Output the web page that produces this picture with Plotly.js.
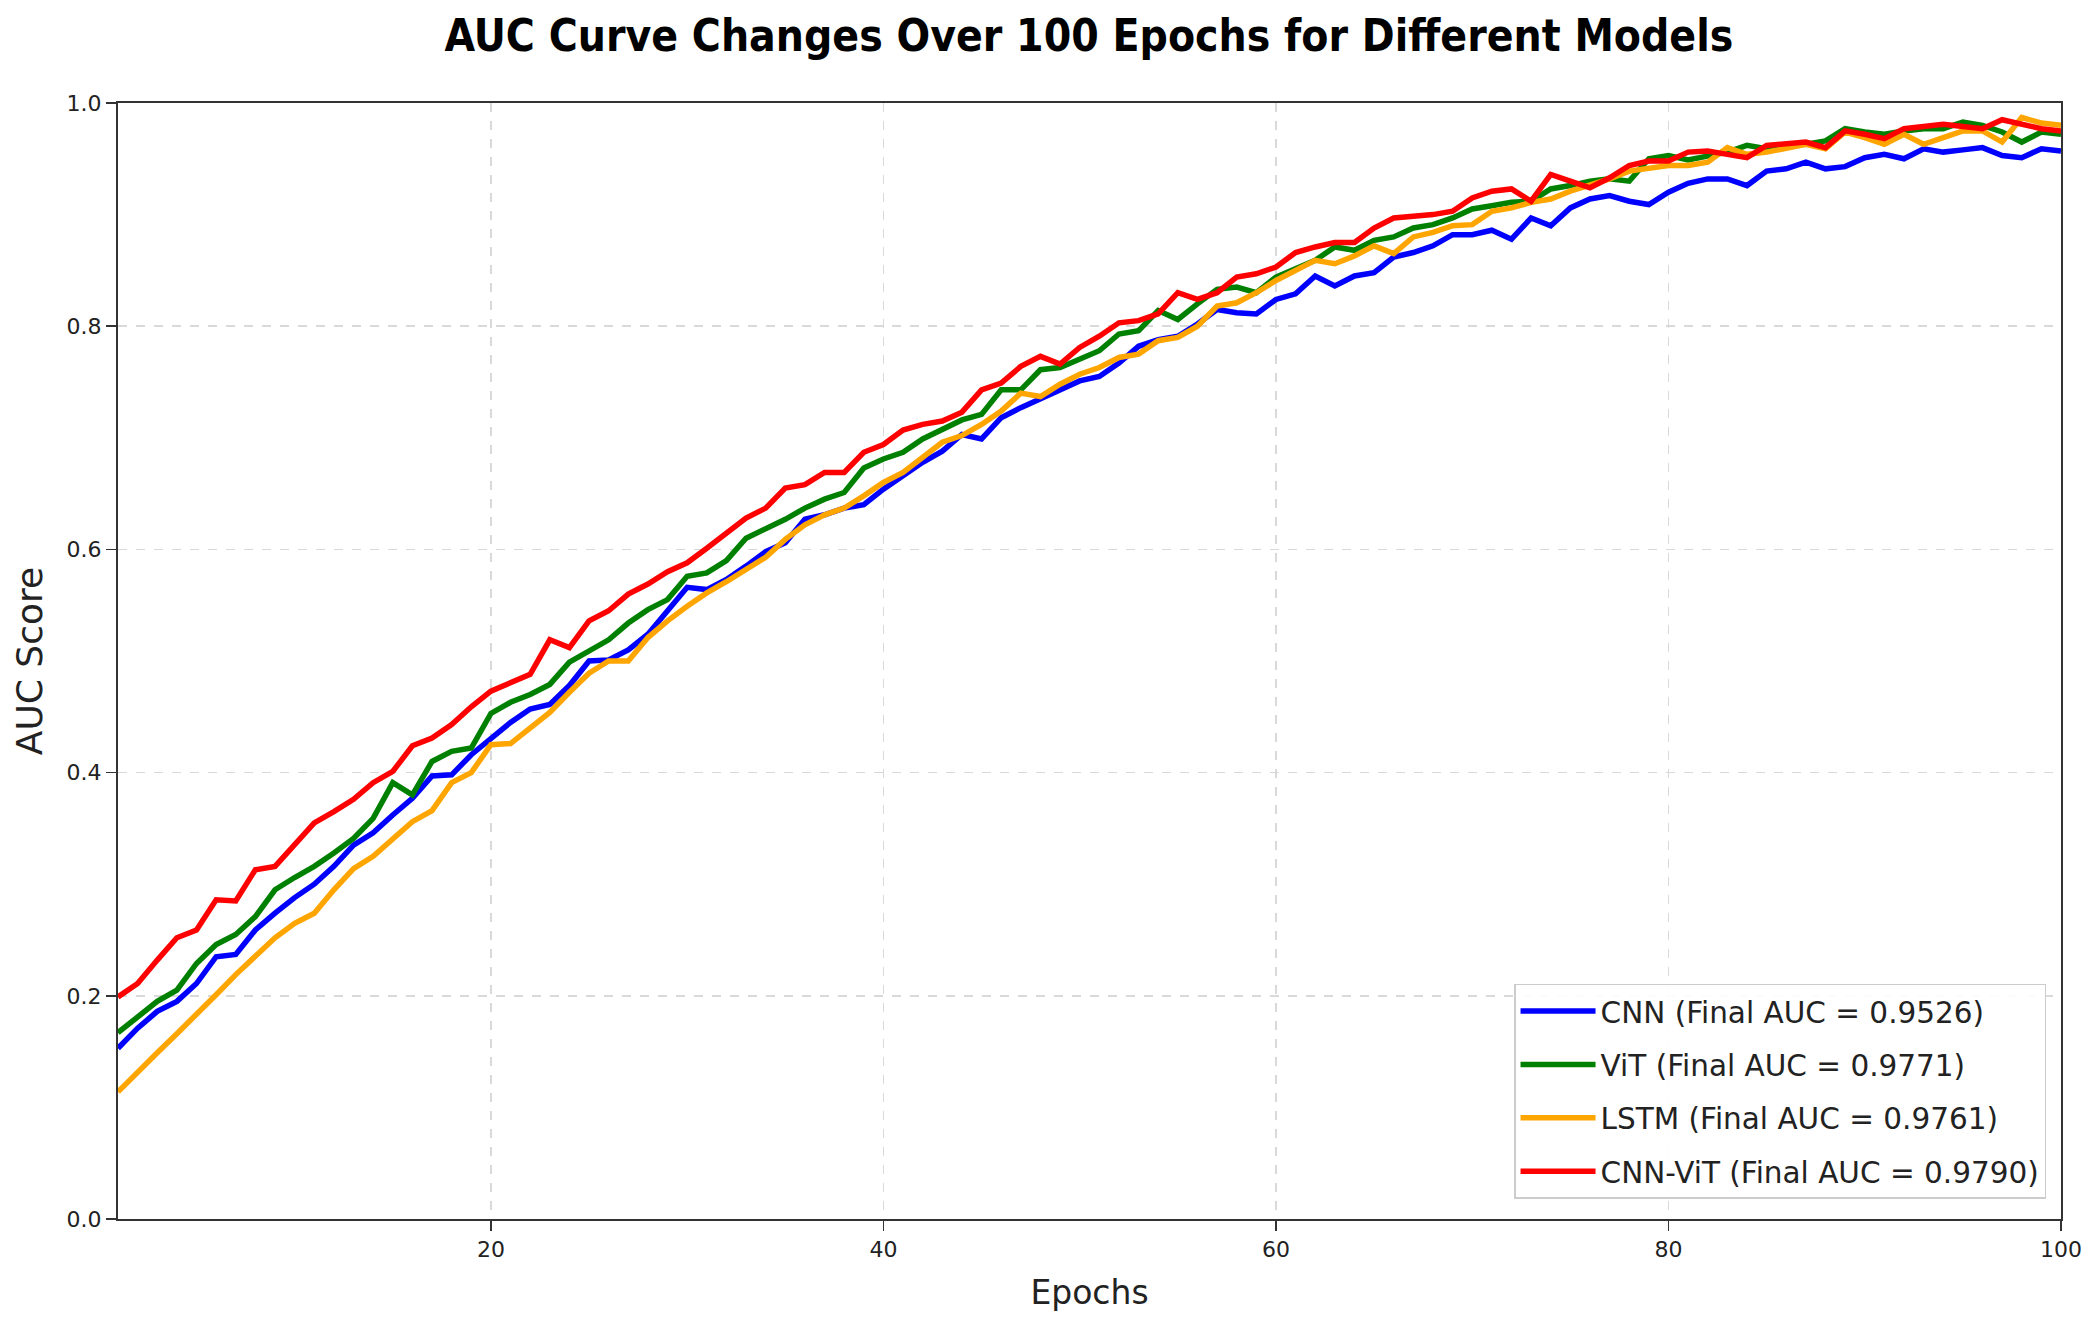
<!DOCTYPE html>
<html>
<head>
<meta charset="utf-8">
<script src="https://cdn.plot.ly/plotly-3.0.1.min.js"></script>
<style>
  html, body { margin: 0; padding: 0; background: #ffffff; }
  #chart { width: 2094px; height: 1331px; }
</style>
</head>
<body>
<div id="chart"></div>
<script>
// Epoch index 1..100
const epochs = Array.from({length: 100}, (_, i) => i + 1);

const seriesNames = [
  'CNN (Final AUC = 0.9526)',
  'ViT (Final AUC = 0.9771)',
  'LSTM (Final AUC = 0.9761)',
  'CNN-ViT (Final AUC = 0.9790)'
];

const cnnAUC = [
  0.153, 0.171, 0.186, 0.195, 0.211, 0.235, 0.237, 0.259, 0.274, 0.288,
  0.300, 0.316, 0.335, 0.346, 0.362, 0.377, 0.397, 0.398, 0.416, 0.430,
  0.445, 0.457, 0.461, 0.478, 0.500, 0.501, 0.510, 0.524, 0.545, 0.566,
  0.564, 0.573, 0.585, 0.598, 0.606, 0.627, 0.631, 0.637, 0.640, 0.654,
  0.666, 0.678, 0.688, 0.703, 0.699, 0.718, 0.727, 0.735, 0.742, 0.751,
  0.755, 0.767, 0.782, 0.788, 0.791, 0.802, 0.815, 0.812, 0.811, 0.824,
  0.829, 0.845, 0.836, 0.845, 0.848, 0.862, 0.866, 0.872, 0.882, 0.882,
  0.886, 0.878, 0.897, 0.890, 0.906, 0.914, 0.917, 0.912, 0.909, 0.920,
  0.928, 0.932, 0.932, 0.926, 0.939, 0.941, 0.947, 0.941, 0.943, 0.951,
  0.954, 0.950, 0.959, 0.956, 0.958, 0.960, 0.953, 0.951, 0.959, 0.957
];

const vitAUC = [
  0.167, 0.181, 0.195, 0.205, 0.229, 0.246, 0.255, 0.271, 0.295, 0.306,
  0.316, 0.328, 0.341, 0.359, 0.391, 0.380, 0.410, 0.419, 0.422, 0.453,
  0.463, 0.470, 0.479, 0.499, 0.509, 0.519, 0.534, 0.546, 0.555, 0.576,
  0.579, 0.590, 0.610, 0.618, 0.627, 0.637, 0.645, 0.651, 0.673, 0.681,
  0.687, 0.699, 0.708, 0.716, 0.721, 0.743, 0.743, 0.761, 0.763, 0.770,
  0.778, 0.793, 0.796, 0.814, 0.806, 0.820, 0.833, 0.835, 0.830, 0.844,
  0.851, 0.859, 0.871, 0.868, 0.877, 0.880, 0.888, 0.891, 0.897, 0.905,
  0.908, 0.911, 0.912, 0.923, 0.926, 0.930, 0.932, 0.930, 0.950, 0.953,
  0.949, 0.953, 0.956, 0.962, 0.959, 0.962, 0.963, 0.966, 0.977, 0.974,
  0.972, 0.975, 0.977, 0.977, 0.983, 0.980, 0.974, 0.965, 0.974, 0.972
];

const lstmAUC = [
  0.114, 0.132, 0.149, 0.166, 0.183, 0.201, 0.219, 0.235, 0.252, 0.265,
  0.274, 0.295, 0.314, 0.325, 0.341, 0.356, 0.366, 0.391, 0.400, 0.425,
  0.426, 0.440, 0.454, 0.472, 0.489, 0.500, 0.500, 0.521, 0.536, 0.549,
  0.561, 0.571, 0.582, 0.593, 0.609, 0.622, 0.631, 0.637, 0.648, 0.660,
  0.669, 0.683, 0.696, 0.702, 0.712, 0.724, 0.740, 0.737, 0.748, 0.757,
  0.763, 0.772, 0.775, 0.787, 0.790, 0.800, 0.818, 0.821, 0.830, 0.841,
  0.850, 0.859, 0.856, 0.863, 0.872, 0.865, 0.880, 0.884, 0.890, 0.891,
  0.903, 0.906, 0.911, 0.914, 0.921, 0.926, 0.932, 0.939, 0.941, 0.944,
  0.944, 0.947, 0.960, 0.954, 0.956, 0.960, 0.963, 0.959, 0.974, 0.969,
  0.963, 0.972, 0.963, 0.969, 0.975, 0.975, 0.965, 0.987, 0.982, 0.980
];

const cnnVitAUC = [
  0.199, 0.211, 0.232, 0.252, 0.259, 0.286, 0.285, 0.313, 0.316, 0.335,
  0.355, 0.365, 0.376, 0.391, 0.401, 0.424, 0.431, 0.443, 0.459, 0.473,
  0.481, 0.488, 0.519, 0.512, 0.536, 0.545, 0.560, 0.569, 0.580, 0.588,
  0.601, 0.615, 0.628, 0.637, 0.655, 0.658, 0.669, 0.669, 0.687, 0.694,
  0.707, 0.712, 0.715, 0.723, 0.743, 0.749, 0.764, 0.773, 0.766, 0.781,
  0.791, 0.803, 0.805, 0.811, 0.830, 0.824, 0.830, 0.844, 0.847, 0.853,
  0.866, 0.871, 0.875, 0.875, 0.888, 0.897, 0.898, 0.900, 0.903, 0.915,
  0.921, 0.923, 0.912, 0.936, 0.930, 0.924, 0.933, 0.944, 0.948, 0.948,
  0.956, 0.957, 0.954, 0.951, 0.962, 0.963, 0.965, 0.960, 0.975, 0.972,
  0.968, 0.977, 0.979, 0.981, 0.979, 0.977, 0.985, 0.981, 0.977, 0.975
];

const xTickVals = [20, 40, 60, 80, 100];
const yTickVals = [0.0, 0.2, 0.4, 0.6, 0.8, 1.0];

const colors = ['#0000ff', '#008000', '#ffa500', '#ff0000'];
const allSeries = [cnnAUC, vitAUC, lstmAUC, cnnVitAUC];

const traces = allSeries.map((ys, i) => ({
  x: epochs,
  y: ys,
  type: 'scatter',
  mode: 'lines',
  name: seriesNames[i],
  legendgroup: 'g' + i,
  line: { color: colors[i], width: 5.5 }
}));

const FONT = 'DejaVu Sans, Liberation Sans, sans-serif';
const TITLE_FONT = 'DejaVu Sans Condensed, DejaVu Sans, sans-serif';

const layout = {
  width: 2094,
  height: 1331,
  paper_bgcolor: '#ffffff',
  plot_bgcolor: '#ffffff',
  margin: { l: 118, r: 33, t: 103, b: 112 },
  font: { family: FONT, color: '#222222' },
  title: {
    text: 'AUC Curve Changes Over 100 Epochs for Different Models',
    font: { family: TITLE_FONT, size: 44, weight: 'bold', color: '#000000' },
    x: 0.52, xanchor: 'center',
    y: 0.973, yanchor: 'middle'
  },
  xaxis: {
    range: [1, 100],
    tickvals: xTickVals,
    ticks: 'outside', ticklen: 10, tickwidth: 1.5, tickcolor: '#333333',
    tickfont: { family: FONT, size: 22, color: '#222222' },
    showgrid: true, gridcolor: '#d9d9d9', gridwidth: 1.5, griddash: 'dash',
    showline: true, mirror: true, linecolor: '#333333', linewidth: 2,
    zeroline: false,
    automargin: false,
    title: { text: 'Epochs', font: { family: FONT, size: 33, color: '#222222' }, standoff: 19 }
  },
  yaxis: {
    range: [0, 1],
    tickvals: yTickVals,
    tickformat: '.1f',
    ticks: 'outside', ticklen: 10, tickwidth: 1.5, tickcolor: '#333333',
    tickfont: { family: FONT, size: 22, color: '#222222' },
    showgrid: true, gridcolor: '#d9d9d9', gridwidth: 1.5, griddash: 'dash',
    showline: true, mirror: true, linecolor: '#333333', linewidth: 2,
    zeroline: false,
    automargin: false,
    title: { text: 'AUC Score', font: { family: FONT, size: 36, color: '#222222' }, standoff: 13 }
  },
  legend: {
    x: 0.9923, xanchor: 'right',
    y: 0.018, yanchor: 'bottom',
    bgcolor: 'rgba(255,255,255,0.9)',
    bordercolor: '#cccccc', borderwidth: 1.5,
    font: { family: FONT, size: 29.5, color: '#222222' },
    tracegroupgap: 12,
    itemwidth: 75
  },
  showlegend: true
};

Plotly.newPlot('chart', traces, layout, { displayModeBar: false, staticPlot: true });
</script>
</body>
</html>
